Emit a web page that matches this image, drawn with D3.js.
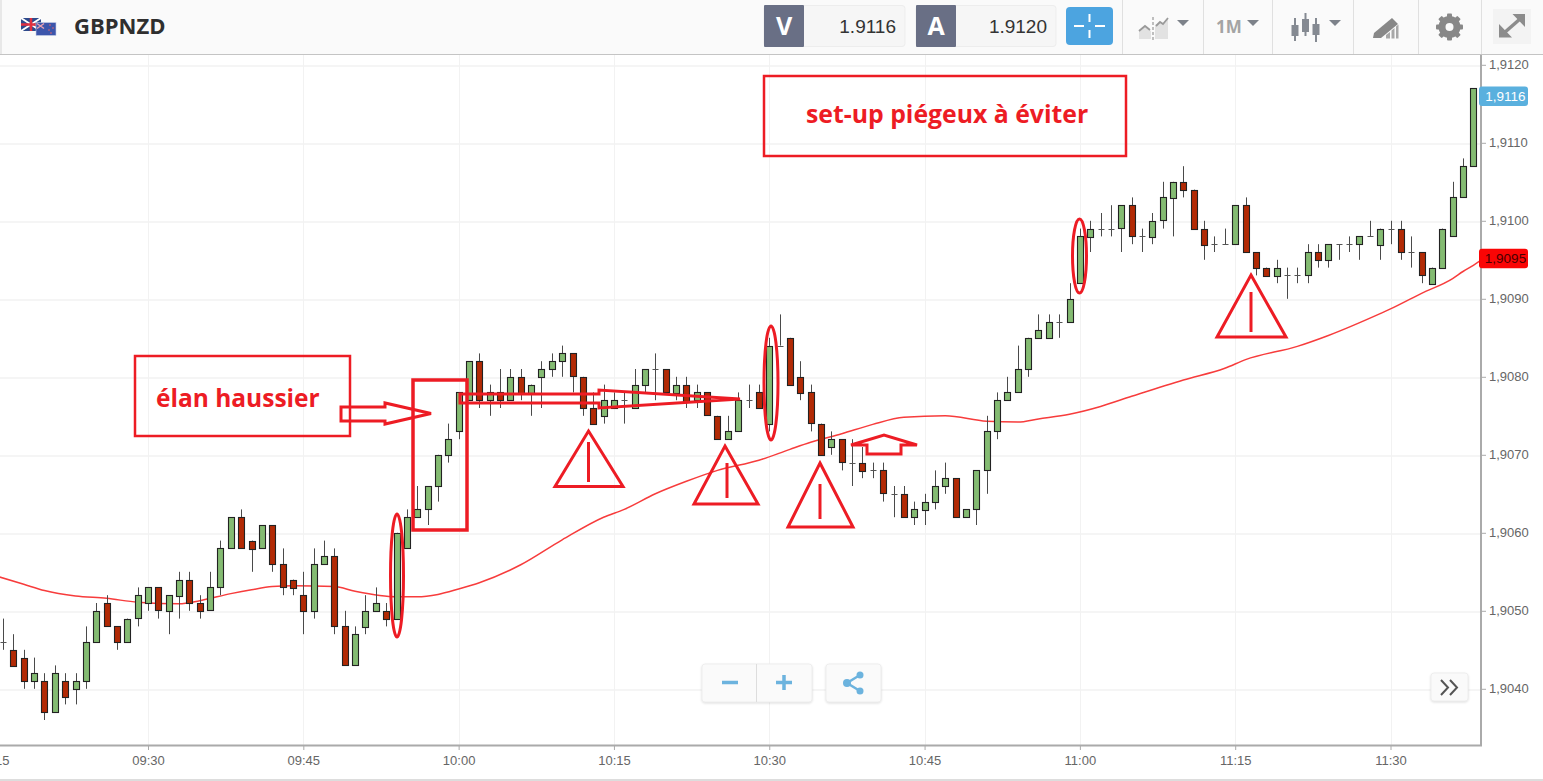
<!DOCTYPE html>
<html><head><meta charset="utf-8">
<script src="https://cdn.jsdelivr.net/npm/d3@7/dist/d3.min.js"></script>
<style>
html,body{margin:0;padding:0;background:#fff;overflow:hidden}
svg{display:block}
</style></head><body>
<svg id="c" width="1543" height="781"></svg>
<script>
const symbol = "GBPNZD";
const bidPrice = "1.9116", askPrice = "1.9120";
const firstCandle = "09:16";
const priceTicks = [1.9040,1.9050,1.9060,1.9070,1.9080,1.9090,1.9100,1.9110,1.9120];
const timeTicks = ["09:15","09:30","09:45","10:00","10:15","10:30","10:45","11:00","11:15","11:30"];
const lastPrice = 1.9116, maLast = 1.9095;

const high = [1.9049,1.9047,1.9045,1.9044,1.9042,1.9043,1.9042,1.9042,1.9048,1.9051,
1.9052,1.9048,1.9049,1.9053,1.9053,1.9053,1.9052,1.9055,1.9055,1.9052,
1.9055,1.9059,1.9062,1.9063,1.9059,1.9061,1.9061,1.9058,1.9054,1.9055,
1.9058,1.9059,1.9058,1.9050,1.9048,1.9052,1.9053,1.9051,1.9060,1.9063,
1.9066,1.9066,1.9070,1.9074,1.9078,1.9082,1.9083,1.9079,1.9081,1.9081,
1.9081,1.9079,1.9082,1.9083,1.9084,1.9083,1.9080,1.9078,1.9079,1.9078,
1.9078,1.9081,1.9081,1.9083,1.9081,1.9080,1.9080,1.9079,1.9078,1.9075,
1.9075,1.9078,1.9079,1.9079,1.9085,1.9088,1.9085,1.9082,1.9079,1.9074,
1.9073,1.9072,1.9072,1.9071,1.9069,1.9069,1.9066,1.9066,1.9064,1.9065,
1.9068,1.9069,1.9067,1.9063,1.9068,1.9075,1.9078,1.9080,1.9084,1.9085,
1.9088,1.9088,1.9088,1.9092,1.9099,1.9100,1.9101,1.9102,1.9102,1.9103,
1.9099,1.9101,1.9105,1.9105,1.9107,1.9104,1.9100,1.9098,1.9099,1.9102,
1.9103,1.9096,1.9094,1.9095,1.9094,1.9094,1.9097,1.9097,1.9097,1.9097,
1.9098,1.9098,1.9100,1.9099,1.9100,1.9100,1.9098,1.9096,1.9094,1.9099,1.9105,1.9108,1.9117];

const open = [1.9046,1.9045,1.9044,1.9041,1.9041,1.9037,1.9041,1.9040,1.9041,1.9046,
1.9051,1.9048,1.9046,1.9049,1.9051,1.9053,1.9050,1.9052,1.9054,1.9051,
1.9050,1.9053,1.9058,1.9062,1.9059,1.9058,1.9061,1.9056,1.9054,1.9052,
1.9050,1.9056,1.9057,1.9048,1.9043,1.9048,1.9050,1.9050,1.9049,1.9058,
1.9062,1.9063,1.9066,1.9070,1.9073,1.9077,1.9082,1.9077,1.9078,1.9077,
1.9080,1.9078,1.9080,1.9081,1.9082,1.9083,1.9080,1.9076,1.9075,1.9076,
1.9077,1.9076,1.9079,1.9081,1.9081,1.9078,1.9079,1.9077,1.9078,1.9075,
1.9072,1.9073,1.9077,1.9078,1.9074,1.9084,1.9085,1.9080,1.9078,1.9074,
1.9071,1.9072,1.9069,1.9069,1.9068,1.9068,1.9065,1.9065,1.9062,1.9063,
1.9064,1.9066,1.9067,1.9062,1.9063,1.9068,1.9073,1.9077,1.9078,1.9081,
1.9085,1.9085,1.9087,1.9087,1.9092,1.9098,1.9099,1.9099,1.9099,1.9102,
1.9098,1.9098,1.9100,1.9103,1.9105,1.9104,1.9099,1.9097,1.9097,1.9097,
1.9102,1.9096,1.9094,1.9093,1.9093,1.9093,1.9093,1.9096,1.9095,1.9097,
1.9097,1.9097,1.9098,1.9097,1.9099,1.9099,1.9096,1.9096,1.9092,1.9094,1.9098,1.9103,1.9107];

const close = [1.9046,1.9043,1.9041,1.9042,1.9037,1.9042,1.9039,1.9041,1.9046,1.9050,
1.9048,1.9046,1.9049,1.9052,1.9053,1.9050,1.9052,1.9054,1.9051,1.9050,
1.9053,1.9058,1.9062,1.9058,1.9058,1.9061,1.9056,1.9053,1.9053,1.9050,
1.9056,1.9057,1.9048,1.9043,1.9047,1.9050,1.9051,1.9049,1.9060,1.9062,
1.9063,1.9066,1.9070,1.9072,1.9078,1.9082,1.9077,1.9078,1.9077,1.9080,
1.9078,1.9079,1.9081,1.9082,1.9083,1.9080,1.9076,1.9074,1.9077,1.9077,
1.9077,1.9079,1.9081,1.9081,1.9078,1.9079,1.9077,1.9078,1.9075,1.9072,
1.9073,1.9077,1.9077,1.9076,1.9084,1.9084,1.9079,1.9078,1.9074,1.9070,
1.9072,1.9069,1.9069,1.9068,1.9068,1.9065,1.9065,1.9062,1.9063,1.9064,
1.9066,1.9067,1.9062,1.9063,1.9068,1.9073,1.9077,1.9078,1.9081,1.9085,
1.9086,1.9087,1.9087,1.9090,1.9098,1.9099,1.9099,1.9099,1.9102,1.9098,
1.9098,1.9100,1.9103,1.9105,1.9104,1.9099,1.9097,1.9097,1.9097,1.9102,
1.9096,1.9094,1.9093,1.9094,1.9093,1.9093,1.9096,1.9095,1.9097,1.9097,
1.9097,1.9098,1.9098,1.9099,1.9099,1.9096,1.9096,1.9093,1.9094,1.9099,1.9103,1.9107,1.9117];

const low = [1.9045,1.9043,1.9040,1.9040,1.9036,1.9037,1.9038,1.9038,1.9040,1.9046,
1.9048,1.9045,1.9046,1.9048,1.9050,1.9049,1.9047,1.9049,1.9050,1.9049,
1.9050,1.9052,1.9058,1.9058,1.9055,1.9058,1.9055,1.9052,1.9052,1.9047,
1.9049,1.9056,1.9047,1.9043,1.9043,1.9047,1.9050,1.9048,1.9049,1.9058,
1.9062,1.9061,1.9064,1.9069,1.9072,1.9077,1.9076,1.9075,1.9076,1.9077,
1.9077,1.9075,1.9076,1.9080,1.9080,1.9078,1.9075,1.9074,1.9074,1.9076,
1.9074,1.9076,1.9078,1.9077,1.9078,1.9077,1.9076,1.9076,1.9075,1.9072,
1.9072,1.9073,1.9076,1.9076,1.9073,1.9084,1.9079,1.9077,1.9073,1.9070,
1.9070,1.9068,1.9066,1.9067,1.9067,1.9064,1.9062,1.9062,1.9061,1.9061,
1.9063,1.9065,1.9062,1.9062,1.9061,1.9065,1.9072,1.9077,1.9078,1.9080,
1.9085,1.9085,1.9085,1.9087,1.9092,1.9096,1.9098,1.9098,1.9096,1.9097,
1.9096,1.9097,1.9099,1.9098,1.9103,1.9099,1.9095,1.9096,1.9097,1.9097,
1.9096,1.9093,1.9093,1.9092,1.9090,1.9092,1.9092,1.9094,1.9094,1.9095,
1.9096,1.9095,1.9098,1.9095,1.9097,1.9095,1.9094,1.9092,1.9092,1.9094,1.9098,1.9103,1.9107];

const maTimes = ["09:15","09:18","09:20","09:23","09:26","09:29","09:33","09:35","09:38","09:40","09:42","09:44","09:48","09:50","09:54","09:56","09:58","10:00","10:02","10:06","10:10","10:14","10:16","10:19","10:22","10:25","10:29","10:32","10:34","10:37","10:40","10:43","10:47","10:51","10:54","10:56","10:59","11:02","11:05","11:10","11:14","11:16","11:21","11:24","11:29","11:30","11:33","11:36","11:37","11:38","11:39"];
const maValues = [1.90546,1.90534,1.90526,1.90519,1.90516,1.90511,1.90509,1.90513,1.90522,1.90527,1.90531,1.90532,1.90531,1.90525,1.90518,1.90518,1.90521,1.90528,1.90536,1.90559,1.90591,1.90620,1.90630,1.90650,1.90666,1.90680,1.90693,1.90707,1.90716,1.90727,1.90739,1.90748,1.90750,1.90743,1.90742,1.90746,1.90752,1.90762,1.90775,1.90796,1.90811,1.90822,1.90839,1.90853,1.90881,1.90887,1.90907,1.90926,1.90935,1.90943,1.90952];

const RED = "#ed1c24";
const svg = d3.select("#c");
const parseT = d3.timeParse("%H:%M");
const fmtT = d3.timeFormat("%H:%M");
const x = d3.scaleTime().domain([parseT("09:30"), parseT("11:30")]).range([148, 1390.5]);
const y = d3.scaleLinear().domain([1.904, 1.912]).range([688.8, 64.8]);
const candleTimes = d3.timeMinute.range(parseT(firstCandle), d3.timeMinute.offset(parseT(firstCandle), high.length));
const candles = candleTimes.map((t,i)=>({t,h:high[i],o:open[i],c:close[i],l:low[i]}));

const PW = 1481, PT = 55, PB = 745;
svg.append("rect").attr("width",1543).attr("height",781).attr("fill","#fff");
svg.append("clipPath").attr("id","plot").append("rect").attr("x",0).attr("y",PT).attr("width",PW).attr("height",PB-PT);

// grid + axes
const xAxis = d3.axisBottom(x).tickValues(timeTicks.map(parseT)).tickFormat(fmtT).tickSizeInner(5).tickSizeOuter(0).tickPadding(6);
const yAxis = d3.axisRight(y).tickValues(priceTicks).tickFormat(d=>d.toFixed(4).replace(".",",")).tickSizeInner(5).tickSizeOuter(0).tickPadding(3);
const grid = svg.append("g");
grid.selectAll("line.v").data(timeTicks).join("line").attr("class","v")
  .attr("x1",d=>Math.round(x(parseT(d)))+.5).attr("x2",d=>Math.round(x(parseT(d)))+.5)
  .attr("y1",PT).attr("y2",PB).attr("stroke","#f2f2f2");
grid.selectAll("line.h").data(priceTicks).join("line").attr("class","h")
  .attr("x1",0).attr("x2",PW).attr("y1",d=>Math.round(y(d))+1).attr("y2",d=>Math.round(y(d))+1)
  .attr("stroke","#f2f2f2").attr("stroke-width",1.5);

const styleAxis = g => {
  g.selectAll("text").attr("font-family","'Liberation Sans',Arial,sans-serif").attr("font-size",13).attr("fill","#666");
  g.selectAll("line").attr("stroke","#aaa");
  g.select(".domain").remove();
};
svg.append("g").attr("transform",`translate(0,${PB})`).call(xAxis).call(styleAxis);
svg.append("g").attr("transform",`translate(${PW},0)`).call(yAxis).call(styleAxis);
svg.append("line").attr("x1",0).attr("x2",PW+1).attr("y1",PB+.5).attr("y2",PB+.5).attr("stroke","#aaa").attr("stroke-width",2);
svg.append("line").attr("x1",PW).attr("x2",PW).attr("y1",PT).attr("y2",PB+1).attr("stroke","#aaa").attr("stroke-width",2);
svg.append("line").attr("x1",0).attr("x2",1543).attr("y1",780).attr("y2",780).attr("stroke","#ddd").attr("stroke-width",2);

// moving average
const plot = svg.append("g").attr("clip-path","url(#plot)");
const ma = maTimes.map((t,i)=>({t:parseT(t),v:maValues[i]}));
plot.append("path").datum(ma)
  .attr("d",d3.line().x(d=>x(d.t)).y(d=>y(d.v)).curve(d3.curveMonotoneX))
  .attr("fill","none").attr("stroke","#f73c3c").attr("stroke-width",1.5);

// candles
const cg = plot.selectAll("g.c").data(candles).join("g").attr("class","c")
  .attr("transform",d=>`translate(${Math.round(x(d.t))+.5},0)`);
cg.append("line").attr("y1",d=>y(d.h)).attr("y2",d=>y(d.l)).attr("stroke","#4a4a4a").attr("stroke-width",1);
cg.filter(d=>d.o===d.c).append("line").attr("x1",-3).attr("x2",3)
  .attr("y1",d=>Math.round(y(d.c))+.5).attr("y2",d=>Math.round(y(d.c))+.5).attr("stroke","#555");
cg.filter(d=>d.o!==d.c).append("rect").attr("x",-3).attr("width",6)
  .attr("y",d=>Math.round(y(Math.max(d.o,d.c)))+.5)
  .attr("height",d=>Math.round(Math.abs(y(d.o)-y(d.c))))
  .attr("fill",d=>d.c>d.o?"#84bb72":"#b22a05").attr("stroke","#222").attr("stroke-width",1.1);

// price flags
const flag=(pos,label,fill,txtc)=>{
  const cy=y(pos), g=svg.append("g");
  g.append("rect").attr("x",1479).attr("y",cy-9.5).attr("width",49).attr("height",19.5).attr("rx",3).attr("fill",fill);
  g.append("text").attr("x",1505.5).attr("y",cy+5).attr("text-anchor","middle").attr("font-family","'Liberation Sans',Arial,sans-serif")
    .attr("font-size",13.5).attr("fill",txtc).text(label.toFixed(4).replace(".",","));
};
flag(lastPrice,lastPrice,"#5ab0de","#fff");
flag(maValues[maValues.length-1],maLast,"#fa0505","#4a0000");

// red annotations (hand-drawn shapes)
const ann = svg.append("g").attr("fill","none").attr("stroke",RED).attr("stroke-width",3);
const box=(x0,y0,x1,y1)=>ann.append("rect").attr("x",x0).attr("y",y0).attr("width",x1-x0).attr("height",y1-y0);
box(764,76,1126,156).attr("stroke-width",2.5);
box(135,356,350,436).attr("stroke-width",2.5);
box(413,380,467,530).attr("stroke-width",3.5);
const poly=(pts)=>ann.append("polygon").attr("points",pts.map(p=>p.join(",")).join(" "));
poly([[341,407],[385,407],[385,403],[431,413.5],[385,424],[385,421],[341,421]]);
poly([[460,394],[599,394],[599,390],[740,399],[599,408],[599,403],[460,403]]);
poly([[851,445],[884,435],[917,445],[901,445],[901,454],[867,454],[867,445]]);
const tri=(ax,ay,l,r,b,lx,ly0,ly1)=>{
  poly([[ax,ay],[r,b],[l,b]]);
  ann.append("line").attr("x1",lx).attr("x2",lx).attr("y1",ly0).attr("y2",ly1);
};
tri(588.5,431,555,623,486.5,588.5,442,482);
tri(725,446,694,758,504,727,463,498);
tri(820,463,788,853,527,820,484,519);
tri(1251,275,1217,1286,337,1251,292,332);
const ell=(cx,cy,rx,ry)=>ann.append("ellipse").attr("cx",cx).attr("cy",cy).attr("rx",rx).attr("ry",ry);
ell(397,575.5,6.5,61.5); ell(771,383,7,57); ell(1079.5,256,7,37);
const annTxt=(t,x0,yb,fs)=>svg.append("text").attr("x",x0).attr("y",yb).attr("font-family","'Open Sans',sans-serif")
  .attr("font-weight",700).attr("font-size",fs).attr("fill",RED).text(t);
annTxt("set-up piégeux à éviter",806,123,24.8);
annTxt("élan haussier",156,407,24.5);

// toolbar
const tb = svg.append("g");
tb.append("rect").attr("width",1543).attr("height",54).attr("fill","#fafafa");
tb.append("line").attr("x1",0).attr("x2",1543).attr("y1",54.5).attr("y2",54.5).attr("stroke","#c4c4c4");
tb.append("rect").attr("width",2).attr("height",54).attr("fill","#e8e8e8");
// flags
const f1=tb.append("g");
f1.append("rect").attr("x",21).attr("y",18).attr("width",20).attr("height",13).attr("fill","#2d4a8c");
f1.append("path").attr("d","M21 18L41 31M41 18L21 31").attr("stroke","#fff").attr("stroke-width",2);
f1.append("path").attr("d","M31 18V31M21 24.5H41").attr("stroke","#e03040").attr("stroke-width",2.5);
f1.append("rect").attr("x",36).attr("y",22.5).attr("width",20).attr("height",13).attr("fill","#3c55ab").attr("stroke","#c8d0e8").attr("stroke-width",.6);
f1.append("path").attr("d","M37 23.5L44 28.5M44 23.5L37 28.5").attr("stroke","#e9a0b0").attr("stroke-width",1.5);
[[50,25],[53,28],[49,30],[51,33]].forEach(p=>f1.append("circle").attr("cx",p[0]).attr("cy",p[1]).attr("r",.8).attr("fill","#e66"));
tb.append("text").attr("x",74).attr("y",34).attr("font-family","'Open Sans',sans-serif").attr("font-weight",700).attr("font-size",22).attr("fill","#2f2f2f").text(symbol);
// quote boxes
const quote=(x0,x1,l,v)=>{
  tb.append("rect").attr("x",x0).attr("y",5.5).attr("width",x1-x0).attr("height",41).attr("rx",3).attr("fill","#f6f6f6").attr("stroke","#ededed");
  tb.append("rect").attr("x",x0).attr("y",5).attr("width",40).attr("height",42).attr("rx",1).attr("fill","#696f85");
  tb.append("text").attr("x",x0+20).attr("y",35).attr("text-anchor","middle").attr("font-family","'Open Sans',sans-serif").attr("font-weight",700).attr("font-size",25).attr("fill","#fff").text(l);
  tb.append("text").attr("x",x1-9).attr("y",33).attr("text-anchor","end").attr("font-family","'Liberation Sans',Arial,sans-serif").attr("font-size",19).attr("fill","#333").text(v);
};
quote(764,905,"V",bidPrice);
quote(916,1056,"A",askPrice);
tb.append("rect").attr("x",1066).attr("y",7).attr("width",47).attr("height",38).attr("rx",4).attr("fill","#4ca4e0");
tb.append("path").attr("d","M1089.5 14V22M1089.5 30V38M1074 26H1084M1095 26H1105").attr("stroke","#fff").attr("stroke-width",2);
[1122,1203,1272,1353,1418,1481].forEach(px=>tb.append("line").attr("x1",px+.5).attr("x2",px+.5).attr("y1",0).attr("y2",54).attr("stroke","#e0e0e0"));
const caret=(cx,cy)=>tb.append("path").attr("d",`M${cx-6} ${cy-3}H${cx+6}L${cx} ${cy+3}Z`).attr("fill","#7d828a");
// area icon
tb.append("path").attr("d","M1139 39V30L1145 26L1151 31V39ZM1155 39V25L1160 22L1163 24L1168 18V39Z").attr("fill","#e2e2e2");
tb.append("path").attr("d","M1139 31L1145 26L1150 30M1156 26L1160 22L1163 24L1168 18").attr("fill","none").attr("stroke","#9a9a9a").attr("stroke-width",1.8);
tb.append("line").attr("x1",1153).attr("x2",1153).attr("y1",17).attr("y2",40).attr("stroke","#aaa").attr("stroke-width",1.5).attr("stroke-dasharray","3 2");
caret(1183,23);
tb.append("text").attr("x",1216).attr("y",33).attr("font-family","'Open Sans',sans-serif").attr("font-weight",700).attr("font-size",17).attr("fill","#a4a4a4").text("1M");
caret(1253,23);
// candle icon
[[1295,25,36,18,41],[1305.5,19,32,13,36],[1316,24,35,18,42]].forEach(a=>{
  tb.append("line").attr("x1",a[0]).attr("x2",a[0]).attr("y1",a[3]).attr("y2",a[4]).attr("stroke","#858a92").attr("stroke-width",2);
  tb.append("rect").attr("x",a[0]-3.5).attr("y",a[1]).attr("width",7).attr("height",a[2]-a[1]).attr("fill","#858a92");
});
caret(1335,23);
// draw icon
tb.append("path").attr("d","M1374 33L1392 18L1398 24L1381 38L1373 38Z").attr("fill","#888");
tb.append("path").attr("d","M1386 38.5V35L1390 32V38.5ZM1391.5 38.5V30.5L1394.5 28V38.5ZM1396 38.5V26.5L1398.5 24.5V38.5Z").attr("fill","#a8a8a8");
// gear
tb.append("circle").attr("cx",1449.5).attr("cy",27).attr("r",7.5).attr("fill","none").attr("stroke","#888").attr("stroke-width",7);
d3.range(8).forEach(i=>tb.append("rect").attr("x",1447).attr("y",13.5).attr("width",5).attr("height",5).attr("rx",1).attr("fill","#888").attr("transform",`rotate(${i*45} 1449.5 27)`));
// expand
tb.append("rect").attr("x",1493).attr("y",9).attr("width",38).attr("height",35).attr("fill","#f3f3f3");
tb.append("path").attr("d","M1504 33L1520 19").attr("stroke","#8c8c8c").attr("stroke-width",3.5);
tb.append("path").attr("d","M1499 24V37.5H1512ZM1525 27V14H1512.5Z").attr("fill","#8c8c8c");

// zoom controls
const ctl = svg.append("g");
const cbox=(x0,y0,x1,y1)=>ctl.append("rect").attr("x",x0).attr("y",y0).attr("width",x1-x0).attr("height",y1-y0).attr("rx",3)
  .attr("fill","#fafafa").attr("stroke","#eee").style("filter","drop-shadow(0 1px 1px rgba(0,0,0,.12))");
cbox(702,664,812,702); cbox(826,664,881,702); cbox(1431,673,1468,701);
ctl.append("line").attr("x1",756.5).attr("x2",756.5).attr("y1",664).attr("y2",702).attr("stroke","#ddd");
ctl.append("path").attr("d","M722 682.5H738M776 682.5H792M784 675V690").attr("stroke","#6cb3de").attr("stroke-width",3.5);
ctl.append("path").attr("d","M860 675L847 683L860 691").attr("fill","none").attr("stroke","#6cb3de").attr("stroke-width",2.5);
[[860,675,3.5],[847,683,4],[860,691,3.5]].forEach(p=>ctl.append("circle").attr("cx",p[0]).attr("cy",p[1]).attr("r",p[2]).attr("fill","#6cb3de"));
ctl.append("path").attr("d","M1441 680L1448 687.5L1441 695M1450 680L1457 687.5L1450 695").attr("fill","none").attr("stroke","#555").attr("stroke-width",2);
</script>
</body></html>
